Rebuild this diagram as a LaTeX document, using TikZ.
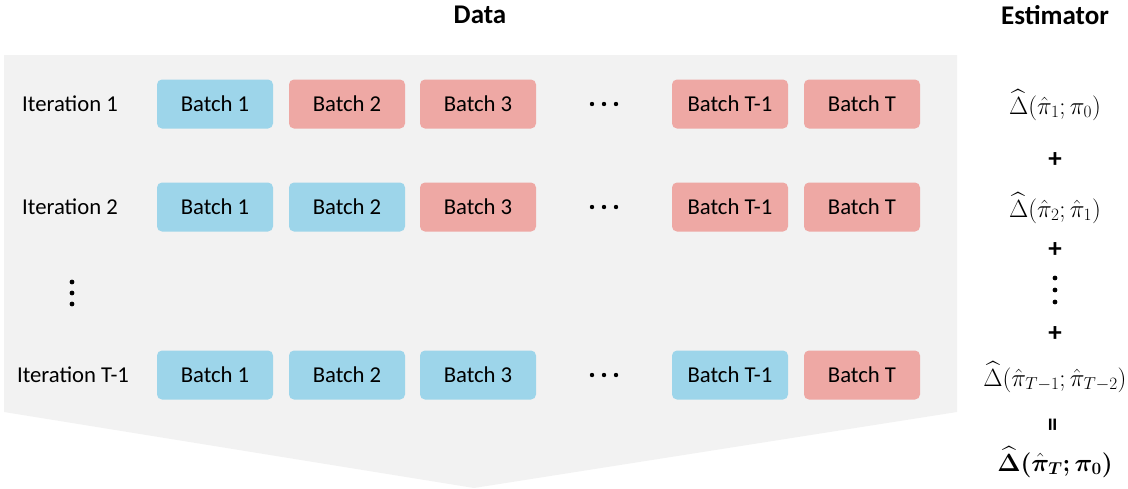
\documentclass[tikz,border=0pt]{standalone}
\usepackage{amsmath,bm}
\usepackage{fontspec}
\setmainfont{Carlito}
\definecolor{bgray}{HTML}{F2F2F2}
\definecolor{bblue}{HTML}{9DD5EA}
\definecolor{bred}{HTML}{EEA8A4}
\tikzset{
  batch/.style={rounded corners=5pt, minimum width=116pt, minimum height=49pt, inner sep=0pt, font=\fontsize{22.7}{27}\selectfont},
  bb/.style={batch, fill=bblue},
  rb/.style={batch, fill=bred},
  itlbl/.style={font=\fontsize{22.7}{27}\selectfont, inner sep=0pt},
  hdr/.style={font=\bfseries\fontsize{27}{32}\selectfont, inner sep=0pt},
  est/.style={font=\fontsize{23}{28}\selectfont, inner sep=0pt},
  opr/.style={font=\bfseries\fontsize{27}{32}\selectfont, inner sep=0pt},
  dotc/.style={fill=black, draw=none}
}
\begin{document}
\begin{tikzpicture}[x=1pt,y=-1pt]
\useasboundingbox (0,0) rectangle (1128,488);
\fill[bgray] (4,55) -- (957,55) -- (957,412) -- (474,488) -- (4,412) -- cycle;
% headers
\node[hdr] (hdata) at (480,15) {Data};
\node[hdr] (hest) at (1055,15) {Estimator};
% iteration labels
\node[itlbl] (it1) at (70,104) {Iteration 1};
\node[itlbl] (it2) at (70,207) {Iteration 2};
\node[itlbl] (itT) at (73,375) {Iteration T-1};
% row 1
\node[bb] (r1b1) at (215,104) {Batch 1};
\node[rb] (r1b2) at (347,104) {Batch 2};
\node[rb] (r1b3) at (478,104) {Batch 3};
\node[rb] (r1bT1) at (730,104) {Batch T-1};
\node[rb] (r1bT) at (862,104) {Batch T};
% row 2
\node[bb] (r2b1) at (215,207) {Batch 1};
\node[bb] (r2b2) at (347,207) {Batch 2};
\node[rb] (r2b3) at (478,207) {Batch 3};
\node[rb] (r2bT1) at (730,207) {Batch T-1};
\node[rb] (r2bT) at (862,207) {Batch T};
% row T-1
\node[bb] (r3b1) at (215,375) {Batch 1};
\node[bb] (r3b2) at (347,375) {Batch 2};
\node[bb] (r3b3) at (478,375) {Batch 3};
\node[bb] (r3bT1) at (730,375) {Batch T-1};
\node[rb] (r3bT) at (862,375) {Batch T};
% horizontal dots
\foreach \y in {104,207,375}{
  \foreach \x in {592,604,616}{ \fill[dotc] (\x,\y) circle (2.2); }
}
% vertical dots left
\foreach \y in {282,293,304}{ \fill[dotc] (72,\y) circle (2.4); }
% estimator column
\node[est] (e1) at (1055,105) {$\widehat{\Delta}(\hat{\pi}_1;\pi_0)$};
\node[opr] (p1) at (1055,160) {+};
\node[est] (e2) at (1055,208) {$\widehat{\Delta}(\hat{\pi}_2;\hat{\pi}_1)$};
\node[opr] (p2) at (1055,250) {+};
\foreach \y in {278,290,302}{ \fill[dotc] (1055,\y) circle (2.4); }
\node[opr] (p3) at (1055,334) {+};
\node[est] (e3) at (1055,377) {$\widehat{\Delta}(\hat{\pi}_{T-1};\hat{\pi}_{T-2})$};
\node[opr, rotate=90] (eq) at (1055,425) {=};
\node[est] (e4) at (1055,462) {$\boldsymbol{\widehat{\Delta}(\hat{\pi}_T;\pi_0)}$};
\end{tikzpicture}
\end{document}
